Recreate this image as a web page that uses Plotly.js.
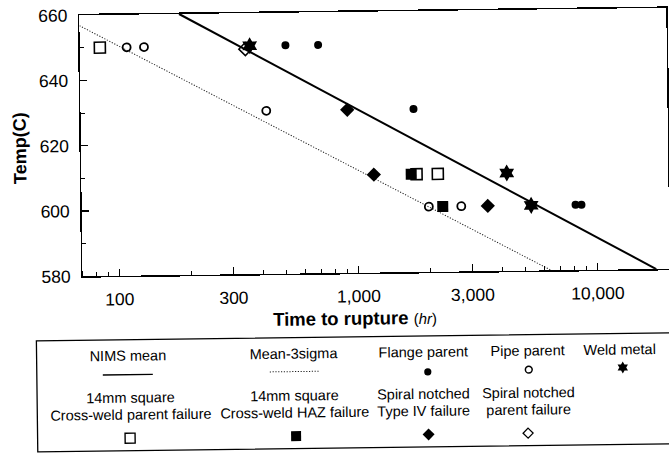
<!DOCTYPE html>
<html>
<head>
<meta charset="utf-8">
<script src="https://cdn.plot.ly/plotly-3.0.1.min.js"></script>
<style>
html,body{margin:0;padding:0;background:#fff;overflow:hidden;}
#chart{width:680px;height:457px;transform:rotate(-0.72deg);transform-origin:340px 228.5px;}
</style>
</head>
<body>
<div id="chart"></div>
<script>
// ---- data (time to rupture in hours, temperature in C) ----
const nimsTime = [183, 17600];
const nimsTemp = [660, 580];
const sigmaTime = [70, 6400];
const sigmaTemp = [656.8, 580];

const flangeTime = [508, 696, 1731, 8150, 8630];
const flangeTemp = [650, 650, 630, 600, 600];

const pipeTime = [110, 130, 419, 1983, 2711];
const pipeTemp = [650, 650, 630, 600, 600];

const weldTime = [360, 4217, 5316];
const weldTemp = [650, 610, 600];

const sqParentTime = [85, 1769, 2171];
const sqParentTemp = [650, 610, 610];

const sqHazTime = [1680, 2268];
const sqHazTemp = [610, 600];

const typeIVTime = [914, 1172, 3499];
const typeIVTemp = [630, 610, 600];

const spParentTime = [345];
const spParentTemp = [649];

const xTickVals = [100, 300, 1000, 3000, 10000];
const xTickText = ["100", "300", "1,000", "3,000", "10,000"];
const xMinorVals = [80, 90, 200, 400, 500, 600, 700, 800, 900, 2000, 4000, 5000, 6000, 7000, 8000, 9000];

const legendRow1 = ["NIMS mean", "Mean-3sigma", "Flange parent", "Pipe parent", "Weld metal"];
const legendRow2a = ["14mm square", "14mm square", "Spiral notched", "Spiral notched"];
const legendRow2b = ["Cross-weld parent failure", "Cross-weld HAZ failure", "Type IV failure", "parent failure"];

// ---- geometry ----
const W = 680, H = 457;
const M = {l: 82, r: 11, t: 12, b: 184};
const PW = W - M.l - M.r, PH = H - M.t - M.b;
const px = u => (u - M.l) / PW;
const py = v => (H - M.b - v) / PH;
const FONT = "Liberation Sans, Arial, Helvetica, sans-serif";
const DOTS = "1.2px,1.6px";

function mk(x, y, symbol, size, lw) {
  return {x: x, y: y, type: "scatter", mode: "markers", hoverinfo: "skip",
    marker: {symbol: symbol, size: size, color: "#000", line: {color: "#000", width: lw || 0}}};
}

const traces = [
  {x: nimsTime, y: nimsTemp, type: "scatter", mode: "lines", line: {color: "#000", width: 2}},
  {x: sigmaTime, y: sigmaTemp, type: "scatter", mode: "lines", line: {color: "#222", width: 1, dash: DOTS}},
  mk(sqParentTime, sqParentTemp, "square-open", 11, 1.6),
  mk(sqHazTime, sqHazTemp, "square", 11, 0),
  mk(pipeTime, pipeTemp, "circle-open", 8, 1.8),
  mk(flangeTime, flangeTemp, "circle", 8, 0),
  mk(typeIVTime, typeIVTemp, "diamond", 11, 0),
  mk(spParentTime, spParentTemp, "diamond-open", 10, 1.5),
  mk(weldTime, weldTemp, "hexagram", 13, 0)
];

// ---- legend box (drawn below plot) ----
const shapes = [];
const annotations = [];
function txt(u, v, s, size, extra) {
  annotations.push(Object.assign({xref: "paper", yref: "paper", x: px(u), y: py(v), text: s,
    showarrow: false, xanchor: "center", yanchor: "middle",
    font: {family: FONT, size: size, color: "#000"}}, extra || {}));
}
shapes.push({type: "rect", xref: "paper", yref: "paper", x0: px(35), x1: px(720), y0: py(337), y1: py(448),
  line: {color: "#000", width: 1.3}});

const c1 = [126, 292, 421, 526, 618];
const c2 = [128, 292, 421, 526];
const rowT1 = 353, rowT2a = 394.5, rowT2b = 412.5;
legendRow1.forEach((s, i) => txt(c1[i], rowT1, s, 14.5));
legendRow2a.forEach((s, i) => txt(c2[i], rowT2a, s, 14.5));
legendRow2b.forEach((s, i) => txt(c2[i], rowT2b, s, 14.5));

// row 1 symbols
const r1 = 372;
shapes.push({type: "line", xref: "paper", yref: "paper", x0: px(101), x1: px(151), y0: py(r1), y1: py(r1), line: {color: "#000", width: 1.3}});
shapes.push({type: "line", xref: "paper", yref: "paper", x0: px(268), x1: px(318), y0: py(r1 - 1), y1: py(r1 - 1), line: {color: "#222", width: 1, dash: DOTS}});
function circ(u, v, r, filled) {
  shapes.push({type: "circle", xref: "paper", yref: "paper", x0: px(u - r), x1: px(u + r), y0: py(v + r), y1: py(v - r),
    fillcolor: filled ? "#000" : "rgba(0,0,0,0)", line: {color: "#000", width: filled ? 0 : 1.5}});
}
function poly(pts, filled, lw) {
  const d = pts.map((p, i) => (i ? "L" : "M") + px(p[0]).toFixed(5) + "," + py(p[1]).toFixed(5)).join(" ") + " Z";
  shapes.push({type: "path", xref: "paper", yref: "paper", path: d,
    fillcolor: filled ? "#000" : "rgba(0,0,0,0)", line: {color: "#000", width: filled ? 0 : lw}});
}
function hexa(u, v, R) {
  const pts = [];
  for (let k = 0; k < 12; k++) {
    const a = (-90 + 30 * k) * Math.PI / 180;
    const r = k % 2 === 0 ? R : R / Math.sqrt(3);
    pts.push([u + r * Math.cos(a), v + r * Math.sin(a)]);
  }
  poly(pts, true, 0);
}
function sq(u, v, h, filled) {
  poly([[u - h, v - h], [u + h, v - h], [u + h, v + h], [u - h, v + h]], filled, 1.4);
}
function dia(u, v, h, filled) {
  poly([[u, v - h], [u + h, v], [u, v + h], [u - h, v]], filled, 1.3);
}
circ(426, r1 + 1, 3.6, true);
circ(527, r1, 3.4, false);
hexa(621, r1 - 1, 6);

// row 2 symbols
const r2 = 435.5;
sq(127.5, r2, 5, false);
sq(293.5, r2, 5, true);
dia(426, r2, 6, true);
dia(525.5, r2, 5, false);

// axis titles
txt(21, 144, "<b>Temp(C)</b>", 18, {textangle: -90});
txt(354, 318, "<b>Time to rupture</b> <span style=\"font-size:15px\">(<i>hr</i>)</span>", 18.5);

const layout = {
  width: W, height: H,
  margin: M,
  paper_bgcolor: "#fff", plot_bgcolor: "#fff",
  showlegend: false,
  font: {family: FONT, color: "#000"},
  xaxis: {
    type: "log", range: [Math.log10(70), Math.log10(20000)],
    tickmode: "array", tickvals: xTickVals, ticktext: xTickText,
    ticks: "inside", ticklen: 7, tickwidth: 1.2, tickcolor: "#000",
    ticklabelstandoff: 7,
    tickfont: {family: FONT, size: 17.5, color: "#000"},
    showline: true, mirror: true, linecolor: "#000", linewidth: 1.5,
    showgrid: false, zeroline: false,
    minor: {tickmode: "array", tickvals: xMinorVals, ticks: "inside", ticklen: 4, tickwidth: 1, tickcolor: "#000", showgrid: false}
  },
  yaxis: {
    range: [580, 660], tick0: 580, dtick: 20,
    ticks: "inside", ticklen: 7, tickwidth: 1.2, tickcolor: "#000",
    ticklabelstandoff: 7,
    tickfont: {family: FONT, size: 17.5, color: "#000"},
    showline: true, mirror: true, linecolor: "#000", linewidth: 1.5,
    showgrid: false, zeroline: false,
    minor: {dtick: 10, ticks: "inside", ticklen: 4, tickwidth: 1, tickcolor: "#000", showgrid: false}
  },
  shapes: shapes,
  annotations: annotations
};

Plotly.newPlot("chart", traces, layout, {staticPlot: true, displayModeBar: false});
</script>
</body>
</html>
